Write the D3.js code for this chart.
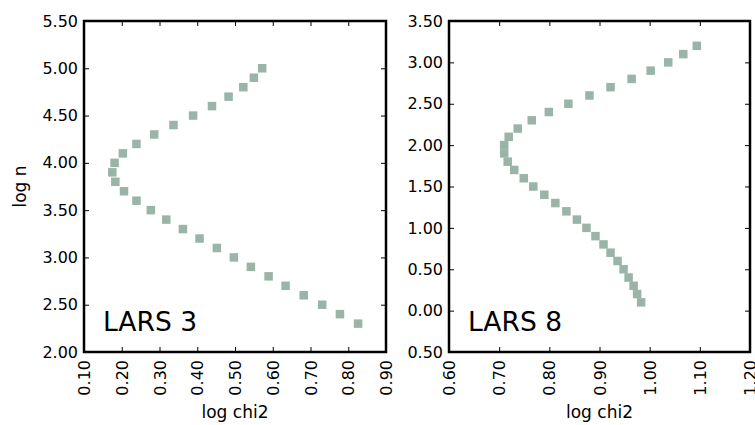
<!DOCTYPE html>
<html>
<head>
<meta charset="utf-8">
<script src="https://cdn.jsdelivr.net/npm/d3@7"></script>
<style>
  body { margin: 0; background: #fff; }
  svg { display: block; }
  text { font-family: "DejaVu Sans", sans-serif; fill: #000; }
</style>
</head>
<body>
<div id="chart"></div>
<script>
// LARS 3 panel
const lars3LogN = [5.0, 4.9, 4.8, 4.7, 4.6, 4.5, 4.4, 4.3, 4.2, 4.1, 4.0, 3.9, 3.8, 3.7,
  3.6, 3.5, 3.4, 3.3, 3.2, 3.1, 3.0, 2.9, 2.8, 2.7, 2.6, 2.5, 2.4, 2.3]
const lars3LogChi2 = [0.572, 0.550, 0.522, 0.483, 0.439, 0.389, 0.337, 0.286, 0.239, 0.203,
  0.181, 0.175, 0.183, 0.206, 0.239, 0.277, 0.318, 0.362, 0.406, 0.452, 0.497, 0.542,
  0.589, 0.634, 0.682, 0.731, 0.778, 0.826]

// LARS 8 panel
const lars8LogN = [3.2, 3.1, 3.0, 2.9, 2.8, 2.7, 2.6, 2.5, 2.4, 2.3, 2.2, 2.1, 2.0, 1.9,
  1.8, 1.7, 1.6, 1.5, 1.4, 1.3, 1.2, 1.1, 1.0, 0.9, 0.8, 0.7, 0.6, 0.5, 0.4, 0.3, 0.2, 0.1]
const lars8LogChi2 = [1.094, 1.067, 1.037, 1.002, 0.964, 0.922, 0.880, 0.838, 0.799, 0.765,
  0.737, 0.719, 0.710, 0.710, 0.717, 0.730, 0.749, 0.768, 0.790, 0.812, 0.834, 0.855,
  0.874, 0.892, 0.908, 0.922, 0.936, 0.948, 0.958, 0.968, 0.975, 0.983]

// axes
const lars3XTicks = [0.1, 0.2, 0.3, 0.4, 0.5, 0.6, 0.7, 0.8, 0.9]
const lars3YTicks = [2.0, 2.5, 3.0, 3.5, 4.0, 4.5, 5.0, 5.5]
const lars3YLabels = ["2.00", "2.50", "3.00", "3.50", "4.00", "4.50", "5.00", "5.50"]

const lars8XTicks = [0.6, 0.7, 0.8, 0.9, 1.0, 1.1, 1.2]
const lars8YTicks = [-0.5, 0.0, 0.5, 1.0, 1.5, 2.0, 2.5, 3.0, 3.5]
const lars8YLabels = ["0.50", "0.00", "0.50", "1.00", "1.50", "2.00", "2.50", "3.00", "3.50"]

const panelNames = ["LARS 3", "LARS 8"]

const W = 755, H = 425
const svg = d3.select("#chart").append("svg").attr("width", W).attr("height", H)

const panels = [
  { name: panelNames[0], x: lars3LogChi2, y: lars3LogN, xTicks: lars3XTicks, yTicks: lars3YTicks,
    yLabels: lars3YLabels, left: 84, right: 386, showYLabel: true },
  { name: panelNames[1], x: lars8LogChi2, y: lars8LogN, xTicks: lars8XTicks, yTicks: lars8YTicks,
    yLabels: lars8YLabels, left: 449, right: 750, showYLabel: false }
]

const plotTop = 21, plotBottom = 352

panels.forEach(drawPanel)

function drawPanel(p){
  const xs = d3.scaleLinear().domain(d3.extent(p.xTicks)).range([p.left, p.right])
  const ys = d3.scaleLinear().domain(d3.extent(p.yTicks)).range([plotBottom, plotTop])
  const g = svg.append("g")

  // points
  const pts = p.x.map((v, i) => ({ x: v, y: p.y[i] }))
  const s = 8.5
  g.selectAll("rect.pt").data(pts).enter().append("rect").attr("class", "pt")
    .attr("x", d => xs(d.x) - s / 2).attr("y", d => ys(d.y) - s / 2)
    .attr("width", s).attr("height", s)
    .attr("fill", "#99b5a7")

  // inward ticks on all sides
  const tl = 5
  const bot = d3.axisBottom(xs).tickValues(p.xTicks).tickSize(-tl).tickFormat(d3.format(".2f")).tickPadding(6)
  const topAx = d3.axisTop(xs).tickValues(p.xTicks).tickSize(-tl).tickFormat("")
  const lft = d3.axisLeft(ys).tickValues(p.yTicks).tickSize(-tl).tickFormat((d, i) => p.yLabels[i]).tickPadding(6)
  const rgt = d3.axisRight(ys).tickValues(p.yTicks).tickSize(-tl).tickFormat("")

  const gb = g.append("g").attr("transform", `translate(0,${plotBottom})`).call(bot)
  gb.selectAll("text")
    .attr("transform", "rotate(-90)")
    .attr("x", -8).attr("y", 0).attr("dy", "0.35em")
    .style("text-anchor", "end")
  g.append("g").attr("transform", `translate(0,${plotTop})`).call(topAx)
  g.append("g").attr("transform", `translate(${p.left},0)`).call(lft)
  g.append("g").attr("transform", `translate(${p.right},0)`).call(rgt)

  g.selectAll(".domain").remove()
  g.selectAll(".tick line").attr("stroke", "#000").attr("stroke-width", 1)
  g.selectAll(".tick text").attr("font-family", "DejaVu Sans").attr("font-size", 16).attr("fill", "#000")

  // frame
  g.append("rect").attr("x", p.left).attr("y", plotTop)
    .attr("width", p.right - p.left).attr("height", plotBottom - plotTop)
    .attr("fill", "none").attr("stroke", "#000").attr("stroke-width", 2.5)

  // panel label
  g.append("text").attr("x", p.left + 19).attr("y", 331)
    .attr("font-family", "Liberation Sans, Arial, sans-serif").attr("font-size", 26.5)
    .text(p.name)

  // axis labels
  g.append("text").attr("x", (p.left + p.right) / 2).attr("y", 418)
    .attr("text-anchor", "middle").attr("font-size", 17).text("log chi2")

  if(p.showYLabel){
    g.append("text").attr("transform", `translate(26,${(plotTop + plotBottom) / 2}) rotate(-90)`)
      .attr("text-anchor", "middle").attr("font-size", 17).text("log n")
  }
}
</script>
</body>
</html>
